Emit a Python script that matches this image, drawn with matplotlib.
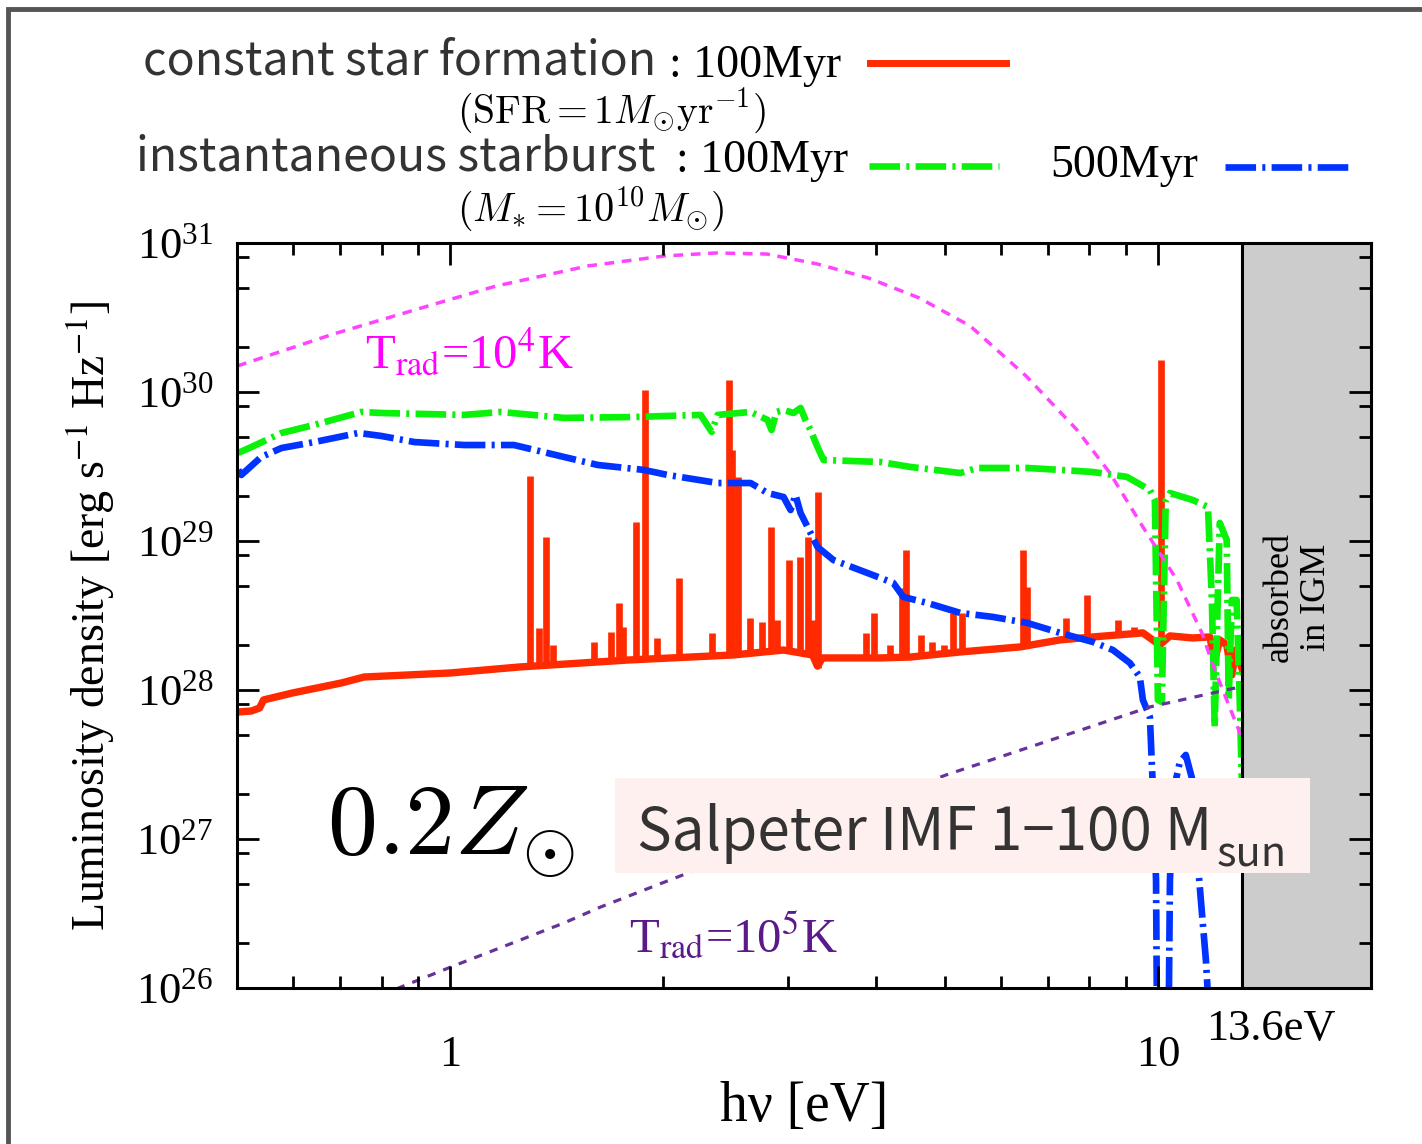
import numpy as np
import matplotlib
matplotlib.use('Agg')
import matplotlib.pyplot as plt
from matplotlib.ticker import LogLocator, NullFormatter
from matplotlib.lines import Line2D
from matplotlib.patches import Rectangle

plt.rcParams['font.family'] = ['Liberation Serif', 'DejaVu Serif']
plt.rcParams['mathtext.fontset'] = 'stix'
plt.rcParams['lines.scale_dashes'] = False

# photon energy [eV] and log10 of luminosity density [erg/s/Hz]
# constant star formation, 100 Myr: continuum
csf_ev = [0.502, 0.524, 0.538, 0.545, 0.599, 0.702, 0.756, 1.0, 1.251, 1.783, 2.515,
          2.959, 3.251, 3.304, 3.358, 4.055, 4.469, 5.258, 6.389, 7.274, 8.097, 9.524,
          10.06, 10.40, 11.20, 11.84, 12.03, 12.23, 12.51, 12.72, 12.88, 13.18]
csf_logL = [27.852, 27.859, 27.879, 27.933, 27.980, 28.047, 28.087, 28.114, 28.154, 28.201, 28.235,
            28.268, 28.235, 28.160, 28.215, 28.215, 28.221, 28.255, 28.289, 28.336, 28.356, 28.383,
            28.302, 28.363, 28.349, 28.356, 28.201, 28.336, 28.302, 28.101, 28.268, 28.128]

# constant star formation: emission lines (position, foot, peak)
line_ev = [1.297, 1.335, 1.366, 1.397, 1.596, 1.687, 1.731, 1.754, 1.829, 1.884, 1.959,
           2.104, 2.342, 2.475, 2.499, 2.548, 2.649, 2.755, 2.845, 2.892, 3.008, 3.117,
           3.199, 3.251, 3.315, 3.875, 3.977, 4.188, 4.355, 4.412, 4.632, 4.801, 4.992,
           5.140, 5.292, 6.452, 6.536, 7.417, 7.941, 8.781, 9.250, 10.10]
line_base = [28.16, 28.16, 28.16, 28.16, 28.18, 28.19, 28.19, 28.19, 28.20, 28.20, 28.20,
             28.21, 28.22, 28.23, 28.23, 28.23, 28.24, 28.25, 28.26, 28.26, 28.26, 28.25,
             28.24, 28.23, 28.15, 28.21, 28.21, 28.22, 28.22, 28.22, 28.23, 28.24, 28.24,
             28.25, 28.26, 28.29, 28.29, 28.34, 28.35, 28.37, 28.38, 28.33]
line_peak = [29.436, 28.416, 29.027, 28.302, 28.322, 28.389, 28.584, 28.423, 29.128, 30.013, 28.349,
             28.752, 28.383, 30.081, 29.611, 29.430, 28.483, 28.456, 29.094, 28.470, 28.872, 28.893,
             29.027, 28.470, 29.329, 28.383, 28.517, 28.302, 28.685, 28.940, 28.369, 28.322, 28.302,
             28.517, 28.517, 28.940, 28.691, 28.483, 28.638, 28.470, 28.423, 30.215]

# instantaneous starburst, 100 Myr
sb100_ev = [0.502, 0.524, 0.578, 0.643, 0.749, 0.799, 1.046, 1.180, 1.448, 1.817, 2.259,
            2.342, 2.388, 2.658, 2.809, 2.845, 2.892, 2.959, 3.057, 3.127, 3.178, 3.230,
            3.304, 3.369, 3.679, 4.055, 4.469, 5.258, 5.555, 6.536, 7.274, 8.097, 9.043,
            9.743, 9.903, 10.00, 10.13, 10.26, 10.40, 11.20, 11.77, 11.92, 12.03, 12.15,
            12.23, 12.51, 12.59, 12.72, 12.92, 13.05, 13.14]
sb100_logL = [29.591, 29.631, 29.725, 29.779, 29.866, 29.859, 29.846, 29.866, 29.826, 29.832, 29.846,
              29.732, 29.846, 29.866, 29.812, 29.745, 29.866, 29.879, 29.859, 29.893, 29.812, 29.745,
              29.631, 29.544, 29.537, 29.530, 29.497, 29.456, 29.490, 29.490, 29.477, 29.463, 29.430,
              29.342, 29.275, 27.933, 27.919, 29.275, 29.322, 29.275, 29.228, 28.604, 27.752, 28.604,
              29.121, 29.007, 27.933, 28.604, 28.604, 27.933, 27.396]

# instantaneous starburst, 500 Myr
sb500_ev = [0.502, 0.507, 0.541, 0.578, 0.643, 0.742, 0.799, 0.890, 1.046, 1.231, 1.448,
            1.617, 1.877, 2.030, 2.388, 2.658, 2.809, 2.959, 3.027, 3.076, 3.127, 3.199,
            3.304, 3.480, 3.888, 4.055, 4.229, 4.369, 4.724, 5.258, 5.852, 6.536, 7.274,
            8.097, 8.64, 9.13, 9.43, 9.524, 9.743, 9.84, 9.94, 9.968, 10.26, 10.36, 10.40,
            10.53, 10.74, 10.95, 11.17, 11.35, 11.50, 11.69, 11.80]
sb500_logL = [29.477, 29.443, 29.564, 29.624, 29.664, 29.725, 29.705, 29.664, 29.644, 29.644, 29.564,
              29.510, 29.477, 29.443, 29.389, 29.389, 29.322, 29.295, 29.208, 29.309, 29.188, 29.094,
              28.960, 28.872, 28.785, 28.752, 28.718, 28.624, 28.584, 28.517, 28.490, 28.450, 28.383,
              28.322, 28.268, 28.181, 28.087, 27.933, 27.819, 27.329, 26.725, 25.852, 25.651, 25.852, 26.725,
              27.329, 27.517, 27.564, 27.409, 26.926, 26.591, 26.188, 25.852]

# black bodies, T_rad = 1e4 K and 1e5 K
bb4_ev = [0.50, 0.684, 0.952, 1.161, 1.566, 2.010, 2.372, 2.800, 3.304, 3.899, 4.601,
          5.430, 6.513, 7.688, 8.556, 9.524, 10.64, 11.54, 11.96, 12.51, 13.18]
bb4_logL = [30.174, 30.389, 30.591, 30.711, 30.846, 30.913, 30.933, 30.926, 30.859, 30.765, 30.631,
            30.443, 30.107, 29.745, 29.456, 29.094, 28.738, 28.383, 28.168, 27.933, 27.664]
bb5_ev = [0.80, 0.853, 1.003, 1.448, 1.633, 2.131, 5.023, 7.941, 9.743, 13.05]
bb5_logL = [25.95, 26.007, 26.141, 26.436, 26.544, 26.758, 27.430, 27.745, 27.886, 28.020]

E_lyman = 13.14   # left edge of the grey band, as drawn

red = '#ff2a00'
green = '#0af20a'
blue = '#0033ff'
magenta = '#ff44ff'
purple = '#663399'
dashdot = (0, (22, 4.5, 2.2, 4.5))

fig = plt.figure(figsize=(14.22, 11.44), dpi=100)
ax = fig.add_axes([0.1667, 0.1364, 0.7974, 0.6512])

ax.plot(csf_ev, 10.0 ** np.array(csf_logL), color=red, lw=5.3, zorder=2)
ax.vlines(line_ev, 10.0 ** np.array(line_base), 10.0 ** np.array(line_peak),
          colors=red, lw=4.8, zorder=2)
ax.plot(sb100_ev, 10.0 ** np.array(sb100_logL), color=green, lw=4.8, ls=dashdot, zorder=3)
ax.plot(sb500_ev, 10.0 ** np.array(sb500_logL), color=blue, lw=4.8, ls=dashdot, zorder=3.5)
ax.plot(bb4_ev, 10.0 ** np.array(bb4_logL), color=magenta, lw=2.5, ls=(0, (7, 5.5)), zorder=4)
ax.plot(bb5_ev, 10.0 ** np.array(bb5_logL), color=purple, lw=2.3, ls=(0, (6, 6)), zorder=4)

ax.set_xscale('log')
ax.set_yscale('log')
ax.set_xlim(0.5, 20)
ax.set_ylim(1e26, 1e31)

# region beyond the Lyman limit
ax.axvspan(E_lyman, 20, facecolor='#cccccc', edgecolor='none', zorder=6)
ax.axvline(E_lyman, color='k', lw=2.2, zorder=7)
ax.text(0.9356, 0.5248, 'absorbed\nin IGM', transform=ax.transAxes, rotation=90,
        ha='center', va='center', fontsize=26, multialignment='center', zorder=9)
ax.text(0.9118, -0.07, '13.6eV', transform=ax.transAxes, ha='center', va='baseline',
        fontsize=32, clip_on=False)

ax.set_xticks([1, 10], ['1', '10'])
ax.xaxis.set_minor_formatter(NullFormatter())
ax.yaxis.set_major_locator(LogLocator(base=10, numticks=10))
ax.yaxis.set_minor_locator(LogLocator(base=10, subs=[2, 5, 8], numticks=20))
ax.yaxis.set_minor_formatter(NullFormatter())
ax.tick_params(which='both', direction='in', top=True, right=True, width=2, labelsize=32)
ax.tick_params(which='major', length=16)
ax.tick_params(which='minor', length=8.5)
ax.tick_params(axis='x', which='major', pad=34)
ax.tick_params(axis='y', which='major', pad=17)
for s in ax.spines.values():
    s.set_linewidth(2.2)
    s.set_zorder(10)
ax.xaxis.set_zorder(10)
ax.yaxis.set_zorder(10)

ax.set_xlabel('hν [eV]', fontsize=40, labelpad=4)
ax.set_ylabel('Luminosity density [erg s$^{-1}$ Hz$^{-1}$]', fontsize=33, labelpad=14)

# annotations inside the axes
ax.text(0.1129, 0.8322, r'T$_{\rm rad}$=10$^4$K', transform=ax.transAxes, color='#ff00ff',
        fontsize=35, va='baseline', zorder=9)
ax.text(0.3457, 0.0483, r'T$_{\rm rad}$=10$^5$K', transform=ax.transAxes, color='#5a1a8a',
        fontsize=35, va='baseline', zorder=9)
ax.text(0.0794, 0.1785, r'$0.2Z_{\odot}$', transform=ax.transAxes, fontsize=72,
        va='baseline', math_fontfamily='cm', zorder=9)
ax.add_patch(Rectangle((0.3333, 0.1544), 0.6129, 0.1275, transform=ax.transAxes,
                       facecolor='#fdf0ee', edgecolor='none', zorder=8))
sans = ['Noto Sans CJK JP', 'DejaVu Sans']
t = ax.text(0.3527, 0.1852, 'Salpeter IMF 1−100 M', transform=ax.transAxes, color='#333333',
            fontsize=42, va='baseline', family=sans, zorder=9)
ax.annotate('sun', xy=(1, 0), xycoords=t, xytext=(3, -2), textcoords='offset points',
            color='#333333', fontsize=30, va='baseline', family=sans, zorder=9)

# legend block above the axes
fig.text(0.1006, 0.9345, 'constant star formation', fontsize=33.5, color='#333333',
         family=sans, va='baseline')
fig.text(0.4705, 0.9327, ': 100Myr', fontsize=33, va='baseline')
fig.text(0.3214, 0.9030, r'$(\mathrm{SFR}=1M_{\odot}\mathrm{yr}^{-1})$', fontsize=28.5,
         va='center', math_fontfamily='cm')
fig.text(0.0956, 0.8510, 'instantaneous starburst', fontsize=33.5, color='#333333',
         family=sans, va='baseline')
fig.text(0.4754, 0.8497, ': 100Myr', fontsize=33, va='baseline')
fig.text(0.7384, 0.8453, '500Myr', fontsize=33, va='baseline')
fig.text(0.3214, 0.8170, r'$(M_{*}=10^{10}M_{\odot})$', fontsize=29,
         va='center', math_fontfamily='cm')
fig.add_artist(Line2D([0.6118, 0.7075], [0.9449, 0.9449], color=red, lw=5, transform=fig.transFigure))
fig.add_artist(Line2D([0.6111, 0.7025], [0.8549, 0.8549], color=green, lw=4.8, ls=dashdot,
                      transform=fig.transFigure))
fig.add_artist(Line2D([0.8615, 0.9522], [0.8540, 0.8540], color=blue, lw=4.8, ls=dashdot,
                      transform=fig.transFigure))

# outer frame
fig.add_artist(Rectangle((7.5 / 1422, -0.05), 1.1, 1.05 - 8.5 / 1144, transform=fig.transFigure,
                         fill=False, edgecolor='#555555', lw=3.5, clip_on=False))

fig.savefig('out.png', dpi=100)
